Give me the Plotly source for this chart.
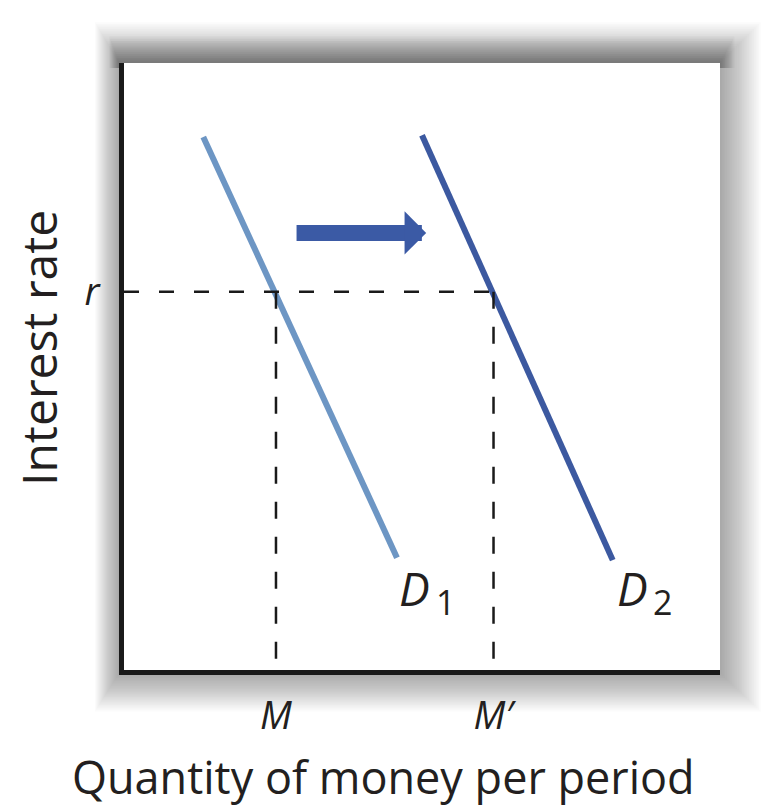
import plotly.graph_objects as go

# ---- data (axis units 0..10) ----
d1_x = [1.33, 4.58]
d1_y = [8.78, 1.85]
d2_x = [5.00, 8.20]
d2_y = [8.81, 1.81]
r_val = 6.23
m_val = 2.55
m2_val = 6.20
arrow_tail = (2.87, 7.2)
arrow_tip = (5.07, 7.2)
x_tick_vals = [m_val, m2_val]
x_tick_text = ["M", "M\u2032"]
y_tick_vals = [r_val]
y_tick_text = ["r"]
curve_names = ["D", "D"]
curve_subs = ["1", "2"]
x_title = "Quantity of money per period"
y_title = "Interest rate"

W, H = 764, 806
ML, MR, MT, MB = 124, 44, 63, 136
PW, PH = W - ML - MR, H - MT - MB

TXT = "#231f20"
FONT = "Open Sans"

fig = go.Figure()

fig.add_trace(go.Scatter(x=d1_x, y=d1_y, mode="lines",
                         line=dict(color="#6d96c4", width=6), hoverinfo="skip"))
fig.add_trace(go.Scatter(x=d2_x, y=d2_y, mode="lines",
                         line=dict(color="#3c59a0", width=6), hoverinfo="skip"))
# dashed guides
fig.add_trace(go.Scatter(x=[0, m2_val], y=[r_val, r_val], mode="lines",
                         line=dict(color="#1a1a1a", width=2.5, dash="15px,20px"), hoverinfo="skip"))
fig.add_trace(go.Scatter(x=[m_val, m_val], y=[r_val, 0], mode="lines",
                         line=dict(color="#1a1a1a", width=2.5, dash="17px,18px"), hoverinfo="skip"))
fig.add_trace(go.Scatter(x=[m2_val, m2_val], y=[r_val, 0], mode="lines",
                         line=dict(color="#1a1a1a", width=2.5, dash="17px,18px"), hoverinfo="skip"))


def px2paper_x(px):
    return (px - ML) / PW


def px2paper_y(py):
    return (H - MB - py) / PH


# soft drop shadow around the plotting area
shapes = []
L, R, T, B = 119, 720, 63, 673
N = 24
for k in range(N, 0, -1):
    shapes.append(dict(type="rect", xref="paper", yref="paper", layer="below",
                       x0=px2paper_x(L - 1.0 * k), x1=px2paper_x(R + 1.7 * k),
                       y0=px2paper_y(B + 1.6 * k), y1=px2paper_y(T - 1.7 * k),
                       fillcolor="rgba(40,40,40,0.018)", line=dict(width=0)))
# darker band along the top edge
for k in range(12, 0, -1):
    shapes.append(dict(type="rect", xref="paper", yref="paper", layer="below",
                       x0=px2paper_x(L - 0.8 * k), x1=px2paper_x(R + 1.2 * k),
                       y0=px2paper_y(T + 5), y1=px2paper_y(T - 2.2 * k),
                       fillcolor="rgba(40,40,40,0.03)", line=dict(width=0)))
shapes.append(dict(type="rect", xref="paper", yref="paper", layer="below",
                   x0=px2paper_x(L), x1=px2paper_x(R), y0=px2paper_y(B), y1=px2paper_y(T),
                   fillcolor="white", line=dict(width=0)))

annotations = [
    dict(x=arrow_tip[0], y=arrow_tip[1], ax=arrow_tail[0], ay=arrow_tail[1],
         xref="x", yref="y", axref="x", ayref="y", text="", showarrow=True,
         arrowhead=1, arrowsize=0.45, arrowwidth=16, arrowcolor="#3b5aa5"),
    # curve labels
    dict(x=d1_x[1], y=1.35, xref="x", yref="y", text="<i>" + curve_names[0] + "</i>",
         showarrow=False, xanchor="left", yanchor="middle",
         font=dict(family=FONT, size=46, color=TXT)),
    dict(x=d1_x[1] + 0.62, y=1.12, xref="x", yref="y", text=curve_subs[0],
         showarrow=False, xanchor="left", yanchor="middle",
         font=dict(family=FONT, size=34, color=TXT)),
    dict(x=d2_x[1] + 0.03, y=1.35, xref="x", yref="y", text="<i>" + curve_names[1] + "</i>",
         showarrow=False, xanchor="left", yanchor="middle",
         font=dict(family=FONT, size=46, color=TXT)),
    dict(x=d2_x[1] + 0.65, y=1.12, xref="x", yref="y", text=curve_subs[1],
         showarrow=False, xanchor="left", yanchor="middle",
         font=dict(family=FONT, size=34, color=TXT)),
    # axis titles
    dict(x=px2paper_x(383), y=px2paper_y(776), xref="paper", yref="paper",
         text=x_title, showarrow=False, xanchor="center", yanchor="middle",
         font=dict(family=FONT, size=45, color=TXT)),
    dict(x=px2paper_x(38), y=px2paper_y(348), xref="paper", yref="paper",
         text=y_title, showarrow=False, xanchor="center", yanchor="middle",
         textangle=-90, font=dict(family=FONT, size=48, color=TXT)),
]

fig.update_layout(
    width=W, height=H,
    margin=dict(l=ML, r=MR, t=MT, b=MB),
    paper_bgcolor="white", plot_bgcolor="white",
    showlegend=False,
    shapes=shapes, annotations=annotations,
    xaxis=dict(range=[0, 10], showgrid=False, zeroline=False,
               showline=True, linecolor="#1a1a1a", linewidth=5,
               tickvals=x_tick_vals, ticktext=x_tick_text, ticks="",
               ticklabelstandoff=8,
               tickfont=dict(family=FONT, size=38, color=TXT, style="italic")),
    yaxis=dict(range=[0, 10], showgrid=False, zeroline=False,
               showline=True, linecolor="#1a1a1a", linewidth=5,
               tickvals=y_tick_vals, ticktext=y_tick_text, ticks="",
               ticklabelstandoff=12,
               tickfont=dict(family=FONT, size=38, color=TXT, style="italic")),
)

fig.write_html("out.html", config={"displayModeBar": False},
               post_script="document.body.style.margin='0';")
